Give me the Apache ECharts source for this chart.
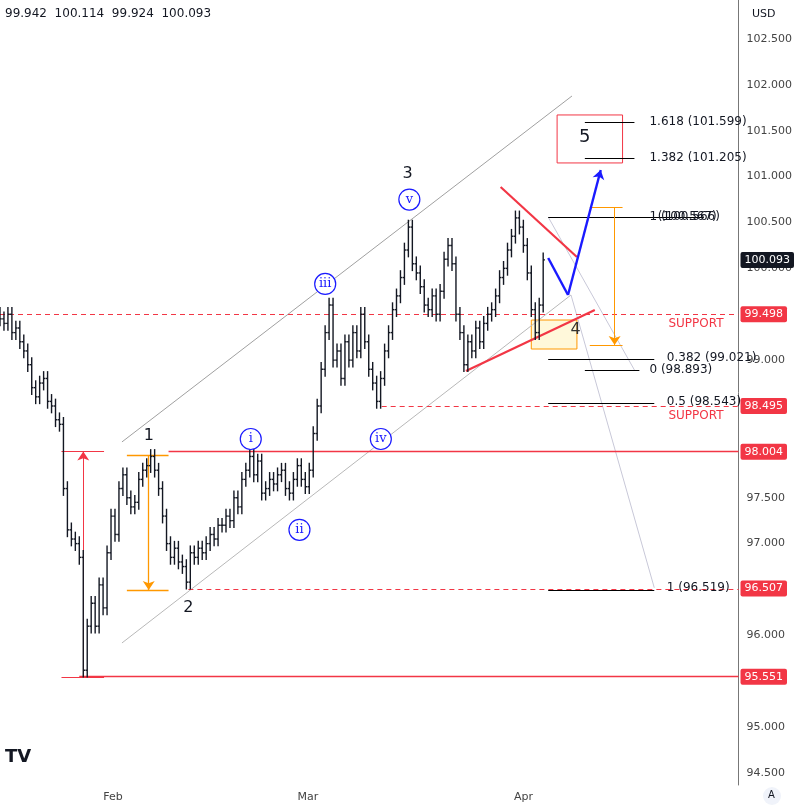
<!DOCTYPE html>
<html><head><meta charset="utf-8">
<script src="https://cdn.jsdelivr.net/npm/echarts@6/dist/echarts.min.js"></script>
<style>html,body{margin:0;padding:0;background:#fff}#c{width:795px;height:807px}</style>
</head><body><div id="c"></div>
<script>
// Bars: one every ~0.57 day starting at day 14.75 (day = days since Jan 1)
const barStart = 14.75, barStep = 0.57;
const closes = [99.45,99.40,99.50,99.30,99.35,99.20,99.10,98.95,98.70,98.60,98.75,98.80,98.55,98.50,98.35,98.30,
97.60,97.15,97.05,97.00,96.85,95.62,96.10,96.35,96.10,96.55,96.30,96.90,97.30,97.10,97.60,97.75,97.50,97.40,97.45,
97.70,97.80,97.85,97.95,97.80,97.60,97.30,97.00,96.85,96.95,96.80,96.75,96.58,96.90,96.85,96.95,96.90,97.00,97.10,
97.05,97.20,97.20,97.30,97.25,97.50,97.40,97.70,97.80,97.95,97.75,97.90,97.55,97.60,97.70,97.65,97.75,97.80,97.60,
97.55,97.70,97.85,97.70,97.62,97.80,98.20,98.50,98.90,99.30,99.60,99.00,99.10,98.80,99.20,99.00,99.30,99.10,99.50,
99.20,98.90,98.75,98.55,98.80,99.10,99.30,99.55,99.70,99.90,100.20,100.45,100.05,99.95,99.80,99.60,99.55,99.70,
99.50,99.75,100.10,100.25,100.05,99.50,99.30,98.95,99.20,99.10,99.35,99.20,99.40,99.50,99.55,99.70,99.90,100.00,
100.20,100.35,100.55,100.45,100.25,99.95,99.55,99.30,99.60,100.093];
const firstOpen = 99.50;
const yTicks = [94.5,95,95.5,96,96.5,97,97.5,98,98.5,99,99.5,100,100.5,101,101.5,102,102.5];
const xTicks = [31,59,90], xTickNames = ['Feb','Mar','Apr'];
const priceTags = [[99.498,'#f23645'],[98.495,'#f23645'],[98.004,'#f23645'],[96.507,'#f23645'],[95.551,'#f23645'],[100.093,'#131722']];

const ohlc = closes.map((c,i)=>{
  const o = i===0?firstOpen:closes[i-1];
  return [barStart+i*barStep,o,c,Math.min(o,c)-0.08,Math.max(o,c)+0.08];
});

const chart = echarts.init(document.getElementById('c'));
const red='#f23645', ora='#ff9800', blue='#1a1aff';
function seg(a,b,color,width,type){return {coords:[a,b],lineStyle:{color:color,width:width,type:type||'solid',opacity:1}};}
const lines = [
  seg([32.28,98.108],[96.98,101.879],'#a0a0a0',1),
  seg([32.28,95.917],[96.84,99.71],'#b8b8b8',1),
  seg([93.56,100.56],[105.96,98.892],'#c8c8d8',1),
  seg([96.84,99.71],[108.81,96.519],'#c8c8d8',1),
  seg([14.75,99.498],[120.92,99.498],red,1.2,[5,4]),
  seg([69.62,98.495],[120.92,98.495],red,1.2,[5,4]),
  seg([38.98,98.004],[120.92,98.004],red,1.3),
  seg([41.83,96.507],[120.92,96.507],red,1.2,[5,4]),
  seg([26.15,95.551],[120.92,95.551],red,1.3),
  seg([23.59,98.004],[29.71,98.004],red,1),
  seg([23.59,95.548],[29.71,95.548],red,1),
  seg([32.99,97.966],[38.98,97.966],ora,1.3),
  seg([32.99,96.495],[38.98,96.495],ora,1.3),
  seg([99.54,100.669],[104.25,100.669],ora,1),
  seg([99.54,99.165],[104.25,99.165],ora,1),
  seg([86.72,100.887],[97.69,100.124],red,2.2),
  seg([81.73,98.881],[100.26,99.546],red,2.2),
  seg([93.56,100.113],[96.41,99.71],blue,2.4),
  seg([98.83,101.595],[105.96,101.595],'#000',1),
  seg([98.83,101.203],[105.96,101.203],'#000',1),
  seg([93.56,100.56],[115.93,100.56],'#000',1),
  seg([93.56,99.012],[108.81,99.012],'#000',1),
  seg([98.83,98.892],[106.67,98.892],'#000',1),
  seg([93.56,98.533],[108.81,98.533],'#000',1),
  seg([93.56,96.495],[108.81,96.495],'#000',1)
];
const arrows = [
  seg([26.72,95.548],[26.72,98.004],red,1),
  seg([36.13,97.966],[36.13,96.495],ora,1.3),
  seg([103.11,100.669],[103.11,99.165],ora,1),
  seg([96.41,99.71],[101.11,101.072],blue,2.4)
];
const dk='#131722';
function txt(x,y,t,color,size,pos){return {value:[x,y],label:{formatter:t,color:color,fontSize:size,position:pos||'inside',fontFamily:'DejaVu Sans',opacity:1}};}
const texts = [
  txt(36.13,98.17,'1',dk,16),
  txt(41.83,96.3,'2',dk,16),
  txt(73.36,101.03,'3',dk,16),
  txt(98.8,101.43,'5',dk,18),
  txt(97.5,99.33,'4','#333',16),
  txt(114.8,99.39,'SUPPORT',red,12),
  txt(114.8,98.39,'SUPPORT',red,12),
  txt(107.4,101.599,'1.618 (101.599)',dk,12,'right'),
  txt(107.4,101.205,'1.382 (101.205)',dk,12,'right'),
  txt(107.4,100.56,'1 (100.566)',dk,12,'right'),
  txt(108.6,100.56,'(100.567)',dk,12,'right'),
  txt(109.9,99.021,'0.382 (99.021)',dk,12,'right'),
  txt(107.4,98.893,'0 (98.893)',dk,12,'right'),
  txt(109.9,98.543,'0.5 (98.543)',dk,12,'right'),
  txt(109.9,96.519,'1 (96.519)',dk,12,'right')
];
const circles = [[50.8,98.14,'i'],[57.8,97.15,'ii'],[61.5,99.83,'iii'],[69.5,98.14,'iv'],[73.6,100.75,'v']].map(c=>({value:[c[0],c[1]],label:{formatter:c[2]}}));

chart.setOption({
  animation:false,
  grid:{left:0,right:50,top:0,bottom:22},
  xAxis:{type:'value',min:14.75,max:120.92,axisLine:{show:false},axisTick:{show:false},splitLine:{show:false},
    axisLabel:{customValues:xTicks,formatter:v=>xTickNames[xTicks.indexOf(v)]||'',color:'#444',fontSize:11,fontFamily:'DejaVu Sans',margin:7}},
  yAxis:{type:'value',position:'right',min:94.369,max:102.925,splitLine:{show:false},
    axisLine:{show:true,lineStyle:{color:'#777'}},axisTick:{show:false},
    axisLabel:{customValues:yTicks,formatter:v=>v.toFixed(3),color:'#444',fontSize:11,fontFamily:'DejaVu Sans',margin:8}},
  graphic:[
    {type:'text',left:5,top:8,style:{text:'99.942  100.114  99.924  100.093',fill:'#131722',font:'12px DejaVu Sans'}},
    {type:'text',left:752,top:9,style:{text:'USD',fill:'#131722',font:'11px DejaVu Sans'}},
    {type:'circle',shape:{cx:772,cy:796,r:9},style:{fill:'#f0f3fa'}},
    {type:'text',left:768,top:790,style:{text:'A',fill:'#131722',font:'10px DejaVu Sans'}},
    {type:'text',left:5,top:748,style:{text:'TV',fill:'#131722',font:'bold 18px DejaVu Sans'}}
  ],
  series:[
    {type:'custom',data:ohlc,encode:{x:0,y:[1,2,3,4]},silent:true,z:5,
     renderItem:function(params,api){
       const x=api.value(0);
       const o=api.coord([x,api.value(1)]),c=api.coord([x,api.value(2)]),l=api.coord([x,api.value(3)]),h=api.coord([x,api.value(4)]);
       const st={stroke:'#131722',lineWidth:1.4};
       return {type:'group',children:[
         {type:'line',shape:{x1:l[0],y1:l[1],x2:h[0],y2:h[1]},style:st},
         {type:'line',shape:{x1:o[0]-1.8,y1:o[1],x2:o[0],y2:o[1]},style:st},
         {type:'line',shape:{x1:c[0],y1:c[1],x2:c[0]+1.8,y2:c[1]},style:st}]};
     }},
    {type:'lines',coordinateSystem:'cartesian2d',data:lines,silent:true,z:3,symbol:'none',lineStyle:{opacity:1}},
    {type:'lines',coordinateSystem:'cartesian2d',data:arrows,silent:true,z:4,symbol:['none','arrow'],symbolSize:9,lineStyle:{opacity:1}},
    {type:'line',data:[],silent:true,z:2,
     markArea:{silent:true,data:[
       [{coord:[94.84,101.672],itemStyle:{color:'rgba(0,0,0,0)',borderColor:red,borderWidth:1}},{coord:[104.25,101.149]}],
       [{coord:[91.13,99.437],itemStyle:{color:'rgba(255,235,150,0.35)',borderColor:ora,borderWidth:1}},{coord:[97.69,99.121]}]
     ]}},
    {type:'line',data:[],silent:true,z:10,
     markLine:{silent:true,symbol:'none',lineStyle:{width:0,color:'rgba(0,0,0,0)'},
       data:priceTags.map(p=>({yAxis:p[0],label:{show:true,position:'end',distance:2,formatter:p[0].toFixed(3),color:'#fff',backgroundColor:p[1],padding:[3,4,2,4],borderRadius:2,fontSize:11,fontFamily:'DejaVu Sans'}}))}},
    {type:'scatter',data:texts,symbolSize:0,silent:true,z:8,itemStyle:{opacity:1},label:{show:true}},
    {type:'scatter',data:circles,symbol:'circle',symbolSize:21,silent:true,z:8,
     itemStyle:{color:'#fff',borderColor:blue,borderWidth:1.2,opacity:1},
     label:{show:true,position:'inside',color:blue,fontSize:13,fontFamily:'DejaVu Serif'}}
  ]
});
</script></body></html>
